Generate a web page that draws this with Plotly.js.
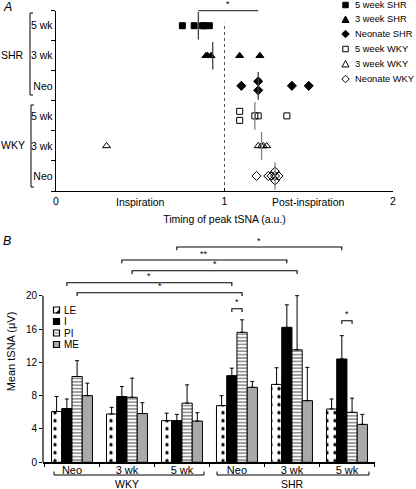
<!DOCTYPE html>
<html><head><meta charset="utf-8">
<script src="https://cdn.plot.ly/plotly-3.0.1.min.js"></script>
<style>html,body{margin:0;padding:0;background:#fff;}#chart{width:416px;height:489px;}</style>
</head><body><div id="chart"></div>
<script>
// ---------- Panel A data: timing of peak tSNA (a.u.) ----------
const rowLabelsA = ['5 wk','3 wk','Neo','5 wk','3 wk','Neo'];
const strainLabelsA = ['SHR','WKY'];
const seriesNamesA = ['5 week SHR','3 week SHR','Neonate SHR','5 week WKY','3 week WKY','Neonate WKY'];
const timing5wkSHR = [0.75,0.82,0.87,0.88,0.91];
const timing3wkSHR = [0.89,0.90,0.92,1.09,1.21];
const timingNeoSHR = [1.10,1.20,1.20,1.40,1.50];
const timing5wkWKY = [1.09,1.09,1.18,1.20,1.37];
const timing3wkWKY = [0.30,1.20,1.22,1.23,1.25];
const timingNeoWKY = [1.19,1.26,1.28,1.30,1.30,1.30,1.32];
const medianTiming = [0.845,0.93,1.20,1.18,1.22,1.30];
const xTickValsA = [0,1,2];
const xTickTextA = ['0','1','2'];
const phaseLabelsA = ['Inspiration','Post-inspiration'];

// ---------- Panel B data: mean tSNA (µV) ----------
const groupsB = ['Neo','3 wk','5 wk','Neo','3 wk','5 wk'];
const strainsB = ['WKY','SHR'];
const phasesB = ['LE','I','PI','ME'];
const meanLE = [6.1,5.8,5.0,6.8,9.35,6.4];
const errLE  = [1.8,0.8,0.9,1.2,2.0,1.2];
const meanI  = [6.45,7.9,5.0,10.4,16.2,12.4];
const errI   = [1.15,1.2,0.75,0.9,2.7,2.8];
const meanPI = [10.3,7.8,7.1,15.6,13.5,6.0];
const errPI  = [1.9,2.3,2.2,1.5,6.5,1.7];
const meanME = [8.0,5.85,4.95,9.0,7.4,4.55];
const errME  = [1.5,1.3,1.0,0.7,4.0,1.2];
const yTickValsB = [0,4,8,12,16,20];
// significance comparisons: [group, phase index] pairs, bracket level in µV
const sigB = [
  {text:'*',  from:[2,1], to:[5,1], level:25.85},
  {text:'**', from:[1,1], to:[4,1], level:24.28},
  {text:'*',  from:[1,2], to:[4,2], level:23.0},
  {text:'*',  from:[0,1], to:[3,1], level:21.56},
  {text:'*',  from:[0,2], to:[3,2], level:20.36},
  {text:'*',  from:[3,1], to:[3,2], level:18.44},
  {text:'*',  from:[5,1], to:[5,2], level:17.0}
];

// ---------- helpers ----------
const W = 416, H = 489;
const fx = x => x / W, fy = y => 1 - y / H;
const FONT = 'Liberation Sans, Arial, sans-serif';
const P = (x, y) => fx(x) + ',' + fy(y);

const groupsA = [timing5wkSHR,timing3wkSHR,timingNeoSHR,timing5wkWKY,timing3wkWKY,timingNeoWKY];
const rowY = rowLabelsA.map((_, i) => rowLabelsA.length - 0.5 - i);
const symbolsA = ['square','triangle-up','diamond','square-open','triangle-up-open','diamond-open'];
const sizesA = [6,7,7,6,7,7];

function stackOffsets(vals) {
  const counts = {}, seen = {};
  vals.forEach(v => counts[v] = (counts[v] || 0) + 1);
  return vals.map(v => {
    const n = counts[v];
    const k = (seen[v] = (seen[v] || 0) + 1) - 1;
    return n > 1 ? 0.15 - 0.3 * k / (n - 1) : 0;
  });
}

const traces = [];
groupsA.forEach((vals, i) => {
  const off = stackOffsets(vals);
  traces.push({
    type: 'scatter', mode: 'markers', xaxis: 'x', yaxis: 'y', name: seriesNamesA[i],
    x: vals, y: vals.map((v, j) => rowY[i] + off[j]), showlegend: false, cliponaxis: false,
    marker: {symbol: symbolsA[i], size: sizesA[i], color: 'black', line: {color: 'black', width: 1}},
    hoverinfo: 'x'
  });
});
// median lines
[[0,1,2,'#444'],[3,4,5,'#808080']].forEach(g => {
  const xs = [], ys = [];
  g.slice(0,3).forEach(i => { xs.push(medianTiming[i], medianTiming[i], null); ys.push(rowY[i] + 0.46, rowY[i] - 0.46, null); });
  traces.push({type:'scatter', mode:'lines', xaxis:'x', yaxis:'y', x: xs, y: ys, showlegend:false,
    line:{color:g[3], width:1.3}, hoverinfo:'skip'});
});

// bars
const xB = groupsB.map((_, i) => i);
const means = [meanLE, meanI, meanPI, meanME];
const errs = [errLE, errI, errPI, errME];
const barStyles = [
  {color:'white', pattern:{shape:'.', fgcolor:'black', bgcolor:'white', size:8, solidity:0.14, fillmode:'replace'}},
  {color:'black'},
  {color:'white', pattern:{shape:'-', fgcolor:'#8a8a8a', bgcolor:'white', size:3.4, solidity:0.45, fillmode:'replace'}},
  {color:'#a9a9a9'}
];
phasesB.forEach((p, k) => {
  traces.push({
    type:'bar', xaxis:'x2', yaxis:'y2', name:p, x:xB, y:means[k], showlegend:false,
    marker: Object.assign({line:{color:'black', width:1}}, barStyles[k]),
    error_y:{type:'data', symmetric:false, array:errs[k], arrayminus:errs[k].map(() => 0),
      color:'black', thickness:1, width:2}
  });
});

const BARGAP = 0.255;
const barW = (1 - BARGAP) / phasesB.length;
const barX = (g, k) => g + (k - (phasesB.length - 1) / 2) * barW;

const shapes = [], annotations = [];

// Panel A shapes
shapes.push({type:'line', xref:'x', yref:'y', x0:1, x1:1, y0:0, y1:5.6, line:{color:'#555', width:1, dash:'dot'}, layer:'below'});
shapes.push({type:'line', xref:'x', yref:'paper', x0:medianTiming[0], x1:medianTiming[2], y0:fy(10.7), y1:fy(10.7), line:{color:'#444', width:1.3}});
annotations.push({xref:'x', yref:'paper', x:(medianTiming[0] + medianTiming[2]) / 2, y:fy(10.2), text:'*', showarrow:false, yanchor:'bottom', borderpad:0, font:{size:9, family:FONT, color:'black'}});
// strain brackets A
shapes.push({type:'path', xref:'paper', yref:'paper', path:'M' + P(33,13) + ' L' + P(30,13) + ' L' + P(30,95) + ' L' + P(33,95), line:{color:'black', width:1}});
shapes.push({type:'path', xref:'paper', yref:'paper', path:'M' + P(34,105) + ' L' + P(31,105) + ' L' + P(31,187) + ' L' + P(34,187), line:{color:'black', width:1}});
annotations.push({xref:'paper', yref:'paper', x:fx(12), y:fy(55), text:strainLabelsA[0], showarrow:false, font:{size:10.5, family:FONT, color:'black'}});
annotations.push({xref:'paper', yref:'paper', x:fx(13), y:fy(145), text:strainLabelsA[1], showarrow:false, font:{size:10.5, family:FONT, color:'black'}});
// phase labels on x axis A
[0.5, 1.5].forEach((xv, i) => annotations.push({xref:'x', yref:'paper', x:xv, y:fy(202), text:phaseLabelsA[i], showarrow:false, font:{size:10.5, family:FONT, color:'black'}}));
// panel letters
annotations.push({xref:'paper', yref:'paper', x:fx(1), y:fy(7), text:'<i>A</i>', showarrow:false, xanchor:'left', font:{size:12.5, family:FONT, color:'black'}});
annotations.push({xref:'paper', yref:'paper', x:fx(1), y:fy(241), text:'<i>B</i>', showarrow:false, xanchor:'left', font:{size:12.5, family:FONT, color:'black'}});

// Legend A (manual, compact)
const legRowsA = [5, 19.5, 34, 49, 64, 79];
const LCX = 345.5;
legRowsA.forEach((cy, i) => {
  const filled = i < 3;
  const fill = filled ? 'black' : 'white';
  const t = i % 3;
  if (t === 0) {
    const s = 5.5;
    shapes.push({type:'rect', xref:'paper', yref:'paper', x0:fx(LCX - s/2), x1:fx(LCX + s/2), y0:fy(cy + s/2), y1:fy(cy - s/2), fillcolor:fill, line:{color:'black', width:1}});
  } else if (t === 1) {
    const s = 7;
    shapes.push({type:'path', xref:'paper', yref:'paper', path:'M' + P(LCX - s/2, cy + s*0.42) + ' L' + P(LCX + s/2, cy + s*0.42) + ' L' + P(LCX, cy - s*0.5) + ' Z', fillcolor:fill, line:{color:'black', width:1}});
  } else {
    const s = 7.5;
    shapes.push({type:'path', xref:'paper', yref:'paper', path:'M' + P(LCX, cy - s/2) + ' L' + P(LCX + s/2, cy) + ' L' + P(LCX, cy + s/2) + ' L' + P(LCX - s/2, cy) + ' Z', fillcolor:fill, line:{color:'black', width:1}});
  }
  annotations.push({xref:'paper', yref:'paper', x:fx(353), y:fy(cy), text:seriesNamesA[i], showarrow:false, xanchor:'left', yanchor:'middle', font:{size:9.3, family:FONT, color:'black'}});
});

// Panel B: y axis line (only 0-20)
shapes.push({type:'line', xref:'x2 domain', yref:'y2', x0:0, x1:0, y0:0, y1:20, line:{color:'black', width:1.2}});
// significance brackets B
const drop = 0.4;
sigB.forEach(s => {
  const x0 = barX(s.from[0], s.from[1]), x1 = barX(s.to[0], s.to[1]);
  shapes.push({type:'path', xref:'x2', yref:'y2',
    path:'M' + x0 + ',' + (s.level - drop) + ' L' + x0 + ',' + s.level + ' L' + x1 + ',' + s.level + ' L' + x1 + ',' + (s.level - drop),
    line:{color:'black', width:1.1}});
  annotations.push({xref:'x2', yref:'y2', x:(x0 + x1) / 2, y:s.level + 0.05, text:s.text, showarrow:false, yanchor:'bottom', borderpad:0, font:{size:9, family:FONT, color:'black'}});
});
// strain brackets B
[[54, 204, 127], [217, 369, 292]].forEach((b, i) => {
  shapes.push({type:'path', xref:'paper', yref:'paper', path:'M' + P(b[0], 471.5) + ' L' + P(b[0], 475) + ' L' + P(b[1], 475) + ' L' + P(b[1], 471.5), line:{color:'black', width:1}});
  annotations.push({xref:'paper', yref:'paper', x:fx(b[2]), y:fy(483.5), text:strainsB[i], showarrow:false, font:{size:10.5, family:FONT, color:'black'}});
});
// Legend B (manual)
const legRowsB = [310, 321.5, 333, 344.5];
const LBX = 56.5, LS = 6;
legRowsB.forEach((cy, k) => {
  const fills = ['white','black','white','#a9a9a9'];
  shapes.push({type:'rect', xref:'paper', yref:'paper', x0:fx(LBX - LS/2), x1:fx(LBX + LS/2), y0:fy(cy + LS/2), y1:fy(cy - LS/2), fillcolor:fills[k], line:{color:'black', width:1.2}});
  if (k === 0) shapes.push({type:'path', xref:'paper', yref:'paper', path:'M' + P(LBX + LS/2, cy - 0.5) + ' L' + P(LBX + LS/2, cy + LS/2) + ' L' + P(LBX - 0.5, cy + LS/2) + ' Z', fillcolor:'black', line:{color:'black', width:0.5}});
  if (k === 2) shapes.push({type:'line', xref:'paper', yref:'paper', x0:fx(LBX - LS/2), x1:fx(LBX + LS/2), y0:fy(cy), y1:fy(cy), line:{color:'#777', width:1}});
  annotations.push({xref:'paper', yref:'paper', x:fx(LBX + 5), y:fy(cy), text:phasesB[k], showarrow:false, xanchor:'left', yanchor:'middle', font:{size:10, family:FONT, color:'black'}});
});

// explicit anchors (avoid Plotly's 'auto' anchoring for paper-referenced annotations)
annotations.forEach(a => { a.xanchor = a.xanchor || 'center'; a.yanchor = a.yanchor || 'middle'; });

const axisCommon = {showgrid:false, zeroline:false, linecolor:'black', tickcolor:'black', fixedrange:true};
const layout = {
  width: W, height: H, margin:{l:0, r:0, t:0, b:0}, paper_bgcolor:'white', plot_bgcolor:'white',
  font:{family:FONT, color:'black', size:10.5},
  showlegend:false, barmode:'group', bargap:BARGAP, bargroupgap:0,
  xaxis: Object.assign({}, axisCommon, {domain:[fx(56), fx(393)], range:[0,2], anchor:'y',
    tickmode:'array', tickvals:xTickValsA, ticktext:xTickTextA, ticks:'inside', ticklen:3, showline:true, linewidth:1.3,
    tickfont:{size:10.5}, title:{text:'Timing of peak tSNA (a.u.)', font:{size:10.5}, standoff:9}}),
  yaxis: Object.assign({}, axisCommon, {domain:[fy(191), fy(10.7)], range:[0,6], anchor:'x',
    tickmode:'array', tickvals:rowY, ticktext:rowLabelsA, ticks:'outside', ticklen:0, showline:true, linewidth:1.3,
    tickfont:{size:10.5}, minor:{tickmode:'array', tickvals:[0,1,2,3,4,5,6], ticks:'outside', ticklen:4, tickcolor:'black', tickwidth:1}}),
  xaxis2: Object.assign({}, axisCommon, {domain:[fx(43), fx(375)], range:[-0.527, 5.51], anchor:'y2',
    tickmode:'array', tickvals:xB, ticktext:groupsB, ticks:'outside', ticklen:0, showline:true, linewidth:1.2,
    ticklabelstandoff:-3,
    tickfont:{size:11}, minor:{tickmode:'array', tickvals:[-0.5,0.5,1.5,2.5,3.5,4.5,5.5], ticks:'outside', ticklen:3, tickcolor:'black', tickwidth:1}}),
  yaxis2: Object.assign({}, axisCommon, {domain:[fy(462.3), fy(240.7)], range:[0,26.6], anchor:'x2',
    tickmode:'array', tickvals:yTickValsB, ticks:'outside', ticklen:3, showline:false,
    tickfont:{size:10}, title:{text:'Mean tSNA (\u03bcV)', font:{size:11}, standoff:8}}),
  shapes: shapes, annotations: annotations
};
Plotly.newPlot('chart', traces, layout, {staticPlot:true, displayModeBar:false});
</script>
</body></html>
